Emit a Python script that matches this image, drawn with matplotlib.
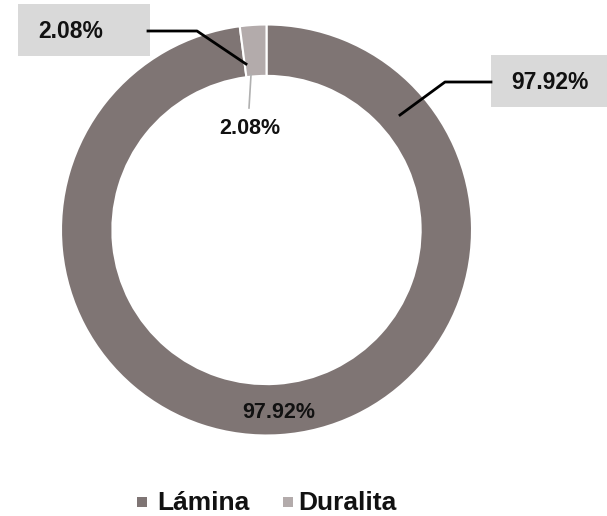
import matplotlib
matplotlib.use("Agg")
import matplotlib.pyplot as plt
from matplotlib.patches import Rectangle

categories = ["Lámina", "Duralita"]
values = [97.92, 2.08]
labels = ["97.92%", "2.08%"]
colors = ["#7f7574", "#b3abab"]

W, H = 607, 516
fig = plt.figure(figsize=(W / 100, H / 100), dpi=100)
plt.rcParams['font.family'] = ['Liberation Sans', 'DejaVu Sans']

cx, cy, R = 266.5, 230.0, 205.5
ax = fig.add_axes([(cx - R) / W, 1 - (cy + R) / H, 2 * R / W, 2 * R / H])

wedges, _ = ax.pie(values, colors=colors, startangle=90, counterclock=False,
                   radius=1.0, wedgeprops=dict(width=0.25, edgecolor='white', linewidth=1.5))
ax.set_xlim(-1, 1)
ax.set_ylim(-1, 1)
ax.set_aspect('equal')
ax.axis('off')

def fx(px):
    return px / W

def fy(py):
    return 1 - py / H

# inner labels
fig.text(fx(279), fy(412), labels[0], ha='center', va='center', fontsize=15.5, fontweight='bold', color='#111111')
fig.text(fx(250), fy(128), labels[1], ha='center', va='center', fontsize=15.5, fontweight='bold', color='#111111')
fig.add_artist(plt.Line2D([fx(251), fx(249)], [fy(75), fy(108)], color='#b0b0b0', lw=1.2))

# callout boxes
fig.add_artist(Rectangle((fx(18), fy(56)), (150 - 18) / W, (56 - 4) / H, transform=fig.transFigure,
                         facecolor='#d9d9d9', edgecolor='none'))
fig.text(fx(71), fy(31), labels[1], ha='center', va='center', fontsize=16.5, fontweight='bold', color='#111111')
fig.add_artist(plt.Line2D([fx(148), fx(197), fx(246)], [fy(31), fy(31), fy(64)], color='black', lw=2))

fig.add_artist(Rectangle((fx(491), fy(107)), (607 - 491) / W, (107 - 55) / H, transform=fig.transFigure,
                         facecolor='#d9d9d9', edgecolor='none'))
fig.text(fx(549.5), fy(82), labels[0], ha='center', va='center', fontsize=16.5, fontweight='bold', color='#111111')
fig.add_artist(plt.Line2D([fx(491), fx(445), fx(400)], [fy(82), fy(82), fy(115)], color='black', lw=2))

# legend
leg_sq = [(137, 497), (283, 497)]
leg_tx = [157, 298]
for (sx, sy), tx, cat, col in zip(leg_sq, leg_tx, categories, colors):
    fig.add_artist(Rectangle((fx(sx), fy(sy + 10)), 10 / W, 10 / H, transform=fig.transFigure,
                             facecolor=col, edgecolor='none'))
    fig.text(fx(tx), fy(503), cat, ha='left', va='center', fontsize=19, fontweight='bold', color='#111111')

fig.savefig("out.png", dpi=100)
